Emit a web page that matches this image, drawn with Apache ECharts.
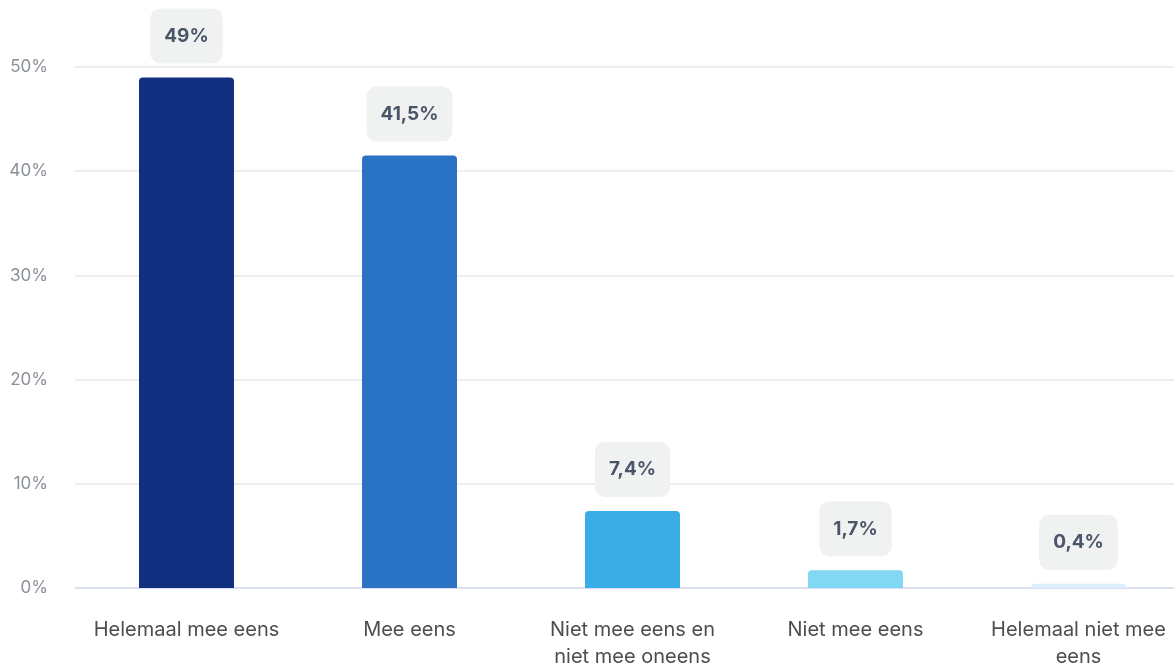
<!DOCTYPE html>
<html><head><meta charset="utf-8">
<script src="https://cdn.jsdelivr.net/npm/echarts@6/dist/echarts.min.js"></script>
<style>html,body{margin:0;padding:0;background:#fff}#c{width:1174px;height:666px}</style>
</head><body><div id="c"></div>
<script>
const categories = ["Helemaal mee eens", "Mee eens", "Niet mee eens en\nniet mee oneens", "Niet mee eens", "Helemaal niet mee\neens"];
const values = [49, 41.5, 7.4, 1.7, 0.4];
const valueLabels = ["49%", "41,5%", "7,4%", "1,7%", "0,4%"];
const barColors = ["#132f80", "#2a72c4", "#3aade6", "#82d7f2", "#dcf0fa"];
const yTicks = [0, 10, 20, 30, 40, 50];

const chart = echarts.init(document.getElementById('c'));
chart.setOption({
  animation: false,
  grid: { left: 75, width: 1115, top: 67, height: 521, containLabel: false, outerBoundsMode: 'none' },
  xAxis: {
    type: 'category',
    data: categories,
    axisLine: { lineStyle: { color: '#d3dcee', width: 1.5 } },
    axisTick: { show: false },
    axisLabel: { color: '#4d4d4d', fontFamily: 'Inter', fontSize: 20, lineHeight: 27, margin: 28, interval: 0, hideOverlap: false }
  },
  yAxis: {
    type: 'value',
    min: yTicks[0], max: yTicks[yTicks.length - 1], interval: 10,
    axisLine: { show: false },
    axisTick: { show: false },
    splitLine: { lineStyle: { color: '#e6e8ec', width: 1.5 } },
    axisLabel: { color: '#8a8f98', fontFamily: 'Inter', fontSize: 17, margin: 27, formatter: v => v + '%' }
  },
  series: [{
    type: 'bar',
    barWidth: 95,
    data: values.map((v, i) => ({ value: v, itemStyle: { color: barColors[i] } })),
    itemStyle: { borderRadius: [4, 4, 0, 0] },
    label: {
      show: true,
      position: 'top',
      distance: 14,
      formatter: p => valueLabels[p.dataIndex],
      fontFamily: 'Inter',
      fontWeight: 'bold',
      fontSize: 19,
      color: '#4a5568',
      backgroundColor: '#f0f2f2',
      borderRadius: 10,
      padding: [18, 14, 18, 14]
    }
  }]
});
</script></body></html>
